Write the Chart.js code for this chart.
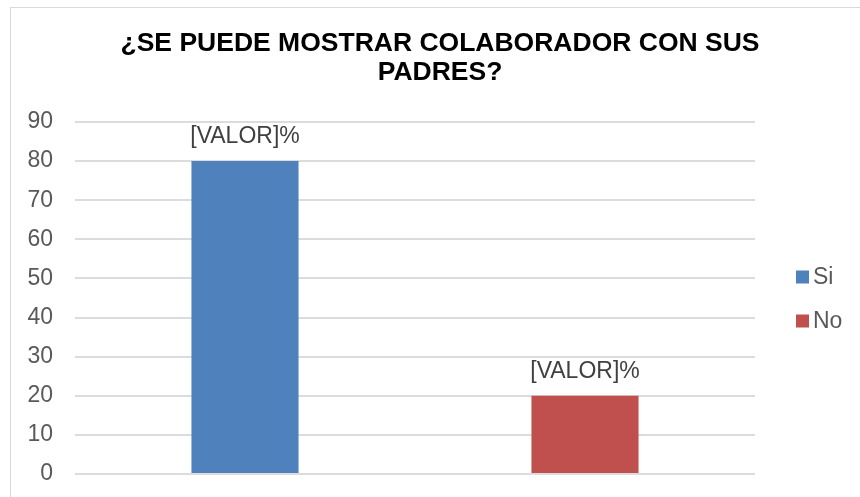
<!DOCTYPE html>
<html>
<head>
<meta charset="utf-8">
<script src="https://cdn.jsdelivr.net/npm/chart.js@4.4.0/dist/chart.umd.min.js"></script>
<style>
  html, body { margin: 0; padding: 0; background: #fff; overflow: hidden; }
  #frame { position: absolute; left: 10px; top: 7px; width: 900px; height: 600px; border: 1px solid #d9d9d9; }
  #grafico { position: absolute; left: 0; top: 0; }
</style>
</head>
<body>
<div id="frame"></div>
<canvas id="grafico" width="860" height="497"></canvas>
<script>
// datos
const categorias = ["Si", "No"];
const valoresSi = [80, null];
const valoresNo = [null, 20];
const etiquetaDato = "[VALOR]%";
const titulo = ["¿SE PUEDE MOSTRAR COLABORADOR CON SUS", "PADRES?"];

const fuente = "'Liberation Sans', Arial, sans-serif";

// título centrado sobre todo el gráfico (incluida la leyenda)
const tituloCentrado = {
    id: "tituloCentrado",
    afterDraw(chart) {
        const ctx = chart.ctx;
        ctx.save();
        ctx.font = "bold 26.5px " + fuente;
        ctx.fillStyle = "#000";
        ctx.textAlign = "center";
        ctx.textBaseline = "middle";
        titulo.forEach((linea, i) => ctx.fillText(linea, 440, 44 + i * 29));
        ctx.restore();
    }
};

// etiquetas encima de las barras
const etiquetas = {
    id: "etiquetas",
    afterDatasetsDraw(chart) {
        const ctx = chart.ctx;
        ctx.save();
        ctx.font = "23px " + fuente;
        ctx.fillStyle = "#404040";
        ctx.textAlign = "center";
        ctx.textBaseline = "middle";
        chart.data.datasets.forEach((ds, i) => {
            chart.getDatasetMeta(i).data.forEach((bar, j) => {
                if (ds.data[j] == null) return;
                ctx.fillText(etiquetaDato, bar.x, bar.y - 24);
            });
        });
        ctx.restore();
    }
};

// leyenda a la derecha (cuadro pegado al texto como en Excel)
const leyenda = {
    id: "leyenda",
    afterDraw(chart) {
        const ctx = chart.ctx;
        const area = chart.chartArea;
        const cy = (area.top + area.bottom) / 2;
        ctx.save();
        ctx.font = "23px " + fuente;
        ctx.textBaseline = "middle";
        chart.data.datasets.forEach((ds, i) => {
            const y = cy - 21 + i * 44;
            ctx.fillStyle = ds.backgroundColor;
            ctx.fillRect(796, y - 6.5, 13, 13);
            ctx.fillStyle = "#595959";
            ctx.fillText(ds.label, 813, y + 1);
        });
        ctx.restore();
    }
};

const ctx = document.getElementById("grafico").getContext("2d");
new Chart(ctx, {
    type: "bar",
    data: {
        labels: categorias,
        datasets: [
            {
                label: "Si",
                data: valoresSi,
                backgroundColor: "#4F81BD",
                grouped: false,
                categoryPercentage: 1,
                barPercentage: 0.315
            },
            {
                label: "No",
                data: valoresNo,
                backgroundColor: "#C0504D",
                grouped: false,
                categoryPercentage: 1,
                barPercentage: 0.315
            }
        ]
    },
    options: {
        responsive: false,
        animation: false,
        layout: { padding: { left: 0, right: 105, top: 122, bottom: 23 } },
        plugins: {
            legend: { display: false },
            tooltip: { enabled: false },
            title: { display: false }
        },
        scales: {
            x: { display: false },
            y: {
                min: 0,
                max: 90,
                ticks: {
                    stepSize: 10,
                    padding: 22,
                    color: "#595959",
                    font: { family: fuente, size: 23 }
                },
                grid: { color: "#dcdcdc", lineWidth: 2, drawTicks: false },
                border: { display: false },
                afterFit(scale) {
                    scale.width = 75;
                    scale.paddingTop = 0;
                    scale.paddingBottom = 0;
                }
            }
        }
    },
    plugins: [etiquetas, leyenda, tituloCentrado]
});
</script>
</body>
</html>
